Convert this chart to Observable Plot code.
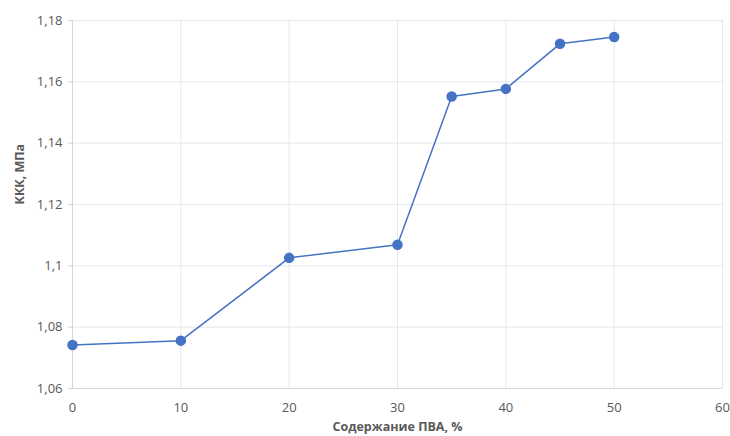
<!DOCTYPE html>
<html>
<head>
<meta charset="utf-8">
<script src="https://cdn.jsdelivr.net/npm/d3@7"></script>
<script src="https://cdn.jsdelivr.net/npm/@observablehq/plot@0.6"></script>
<style>
  html, body { margin: 0; padding: 0; background: #fff; }
  #chart svg { display: block; }
</style>
</head>
<body>
<div id="chart"></div>
<script>
const pva = [0, 10, 20, 30, 35, 40, 45, 50];
const kkk = [1.0742, 1.0756, 1.1026, 1.1069, 1.1552, 1.1577, 1.1724, 1.1746];
const xTicks = [0, 10, 20, 30, 40, 50, 60];
const yTicks = [1.06, 1.08, 1.10, 1.12, 1.14, 1.16, 1.18];
const xTitle = "Содержание ПВА, %";
const yTitle = "ККК, МПа";

const data = pva.map((x, i) => ({x, y: kkk[i]}));
const fmtY = v => String(+v.toFixed(2)).replace(".", ",");
const textColor = "#595959";
const gridColor = "#e3e7ee";
const blue = "#4472C4";

const plot = Plot.plot({
  width: 730,
  height: 436,
  marginLeft: 72,
  marginRight: 8,
  marginTop: 20,
  marginBottom: 48,
  style: {fontFamily: "'Open Sans', 'Noto Sans', sans-serif", fontSize: "12px", color: textColor, background: "#fff"},
  x: {domain: [0, 60]},
  y: {domain: [1.06, 1.18]},
  marks: [
    Plot.gridX(xTicks, {stroke: gridColor, strokeOpacity: 1}),
    Plot.gridY(yTicks, {stroke: gridColor, strokeOpacity: 1}),
    Plot.ruleX([0], {stroke: "#d0d6e0"}),
    Plot.ruleY([1.06], {stroke: "#d0d6e0"}),
    Plot.axisX(xTicks, {tickSize: 0, tickPadding: 14, fill: textColor, fontSize: 13, label: null}),
    Plot.axisY(yTicks, {tickSize: 4, tickPadding: 6, stroke: "#d0d6e0", fill: textColor, fontSize: 13, tickFormat: fmtY, label: null}),
    Plot.text([xTitle], {frameAnchor: "bottom", dy: 42, fill: textColor, fontWeight: "bold", fontSize: 12.5}),
    Plot.text([yTitle], {frameAnchor: "left", dx: -53, rotate: -90, fill: textColor, fontWeight: "bold", fontSize: 12.5}),
    Plot.line(data, {x: "x", y: "y", stroke: blue, strokeWidth: 1.5}),
    Plot.dot(data, {x: "x", y: "y", fill: blue, r: 4.5, stroke: blue})
  ]
});
document.getElementById("chart").append(plot);
</script>
</body>
</html>
